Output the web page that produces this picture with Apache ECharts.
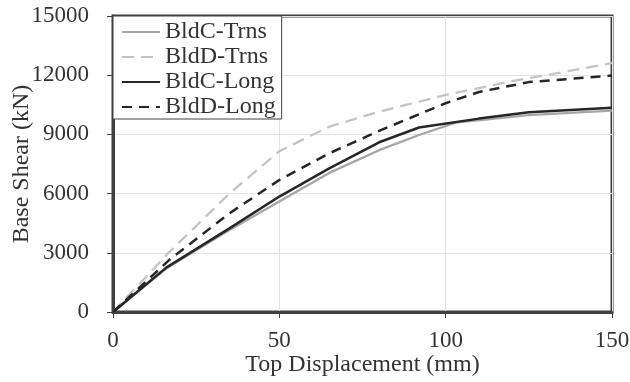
<!DOCTYPE html>
<html>
<head>
<meta charset="utf-8">
<script src="https://cdn.jsdelivr.net/npm/echarts@6/dist/echarts.min.js"></script>
<style>html,body{margin:0;padding:0;background:#fff;}#c{width:630px;height:382px;}</style>
</head>
<body>
<div id="c"></div>
<script>
const seriesNames = ['BldC-Trns', 'BldD-Trns', 'BldC-Long', 'BldD-Long'];
const xTicks = [0, 50, 100, 150];
const yTicks = [0, 3000, 6000, 9000, 12000, 15000];

const bldCTrnsX = [0, 16, 35, 50, 65, 80, 92, 103, 125, 150];
const bldCTrnsY = [0, 2200, 4150, 5600, 7050, 8200, 8970, 9600, 9980, 10200];

const bldDTrnsX = [0, 17, 35, 50, 65, 80, 100, 120, 135, 150];
const bldDTrnsY = [0, 3050, 6000, 8150, 9390, 10150, 11000, 11700, 12150, 12620];

const bldCLongX = [0, 16, 35, 50, 65, 80, 92, 110, 125, 150];
const bldCLongY = [0, 2250, 4240, 5850, 7280, 8600, 9350, 9800, 10120, 10350];

const bldDLongX = [0, 17, 35, 50, 65, 80, 100, 110, 125, 150];
const bldDLongY = [0, 2650, 5000, 6690, 8040, 9180, 10580, 11150, 11650, 11980];

function pairs(xs, ys) { return xs.map((x, i) => [x, ys[i]]); }

const font = 'Liberation Serif';
const chart = echarts.init(document.getElementById('c'), null, {renderer: 'canvas'});
chart.setOption({
  animation: false,
  backgroundColor: '#fff',
  grid: {left: 113, top: 16, right: 18, bottom: 70, show: true, borderColor: '#404040', borderWidth: 3,
         containLabel: false, outerBoundsMode: 'none'},
  legend: {
    orient: 'vertical', left: 113, top: 16,
    data: seriesNames,
    itemWidth: 38, itemHeight: 10, itemGap: 1,
    padding: [4, 6, 0, 8],
    backgroundColor: '#fff', borderColor: '#404040', borderWidth: 1,
    itemStyle: {opacity: 0},
    textStyle: {fontFamily: font, fontSize: 24, color: '#333'},
    z: 10
  },
  xAxis: {
    type: 'value', min: 0, max: 150, interval: 50,
    name: 'Top Displacement (mm)', nameLocation: 'middle', nameGap: 41, nameMoveOverlap: false,
    nameTextStyle: {fontFamily: font, fontSize: 24, color: '#333'},
    axisLine: {show: true, lineStyle: {color: '#404040', width: 3}},
    axisTick: {show: true, inside: false, length: 6, lineStyle: {color: '#404040', width: 1}},
    axisLabel: {fontFamily: font, fontSize: 23, color: '#333', margin: 17,
                formatter: v => String(v)},
    splitLine: {show: true, lineStyle: {color: '#e3e3e3', width: 1}}
  },
  yAxis: {
    type: 'value', min: 0, max: 15000, interval: 3000,
    name: 'Base Shear (kN)', nameLocation: 'middle', nameGap: 79, nameMoveOverlap: false,
    nameTextStyle: {fontFamily: font, fontSize: 24, color: '#333'},
    axisLine: {show: true, lineStyle: {color: '#404040', width: 3}},
    axisTick: {show: true, inside: false, length: 6, lineStyle: {color: '#404040', width: 1}},
    axisLabel: {fontFamily: font, fontSize: 23, color: '#333', margin: 24,
                formatter: v => String(v)},
    splitLine: {show: true, lineStyle: {color: '#e3e3e3', width: 1}}
  },
  series: [
    {name: seriesNames[0], type: 'line', symbol: 'none', data: pairs(bldCTrnsX, bldCTrnsY),
     lineStyle: {color: '#a6a6a6', width: 2.3, type: 'solid'}, itemStyle: {color: '#a6a6a6'}},
    {name: seriesNames[1], type: 'line', symbol: 'none', data: pairs(bldDTrnsX, bldDTrnsY),
     lineStyle: {color: '#c4c4c4', width: 2.3, type: [12, 7]}, itemStyle: {color: '#c4c4c4'}},
    {name: seriesNames[2], type: 'line', symbol: 'none', data: pairs(bldCLongX, bldCLongY),
     lineStyle: {color: '#262626', width: 2.5, type: 'solid'}, itemStyle: {color: '#262626'}},
    {name: seriesNames[3], type: 'line', symbol: 'none', data: pairs(bldDLongX, bldDLongY),
     lineStyle: {color: '#262626', width: 2.5, type: [10, 7]}, itemStyle: {color: '#262626'}}
  ]
});
</script>
</body>
</html>
